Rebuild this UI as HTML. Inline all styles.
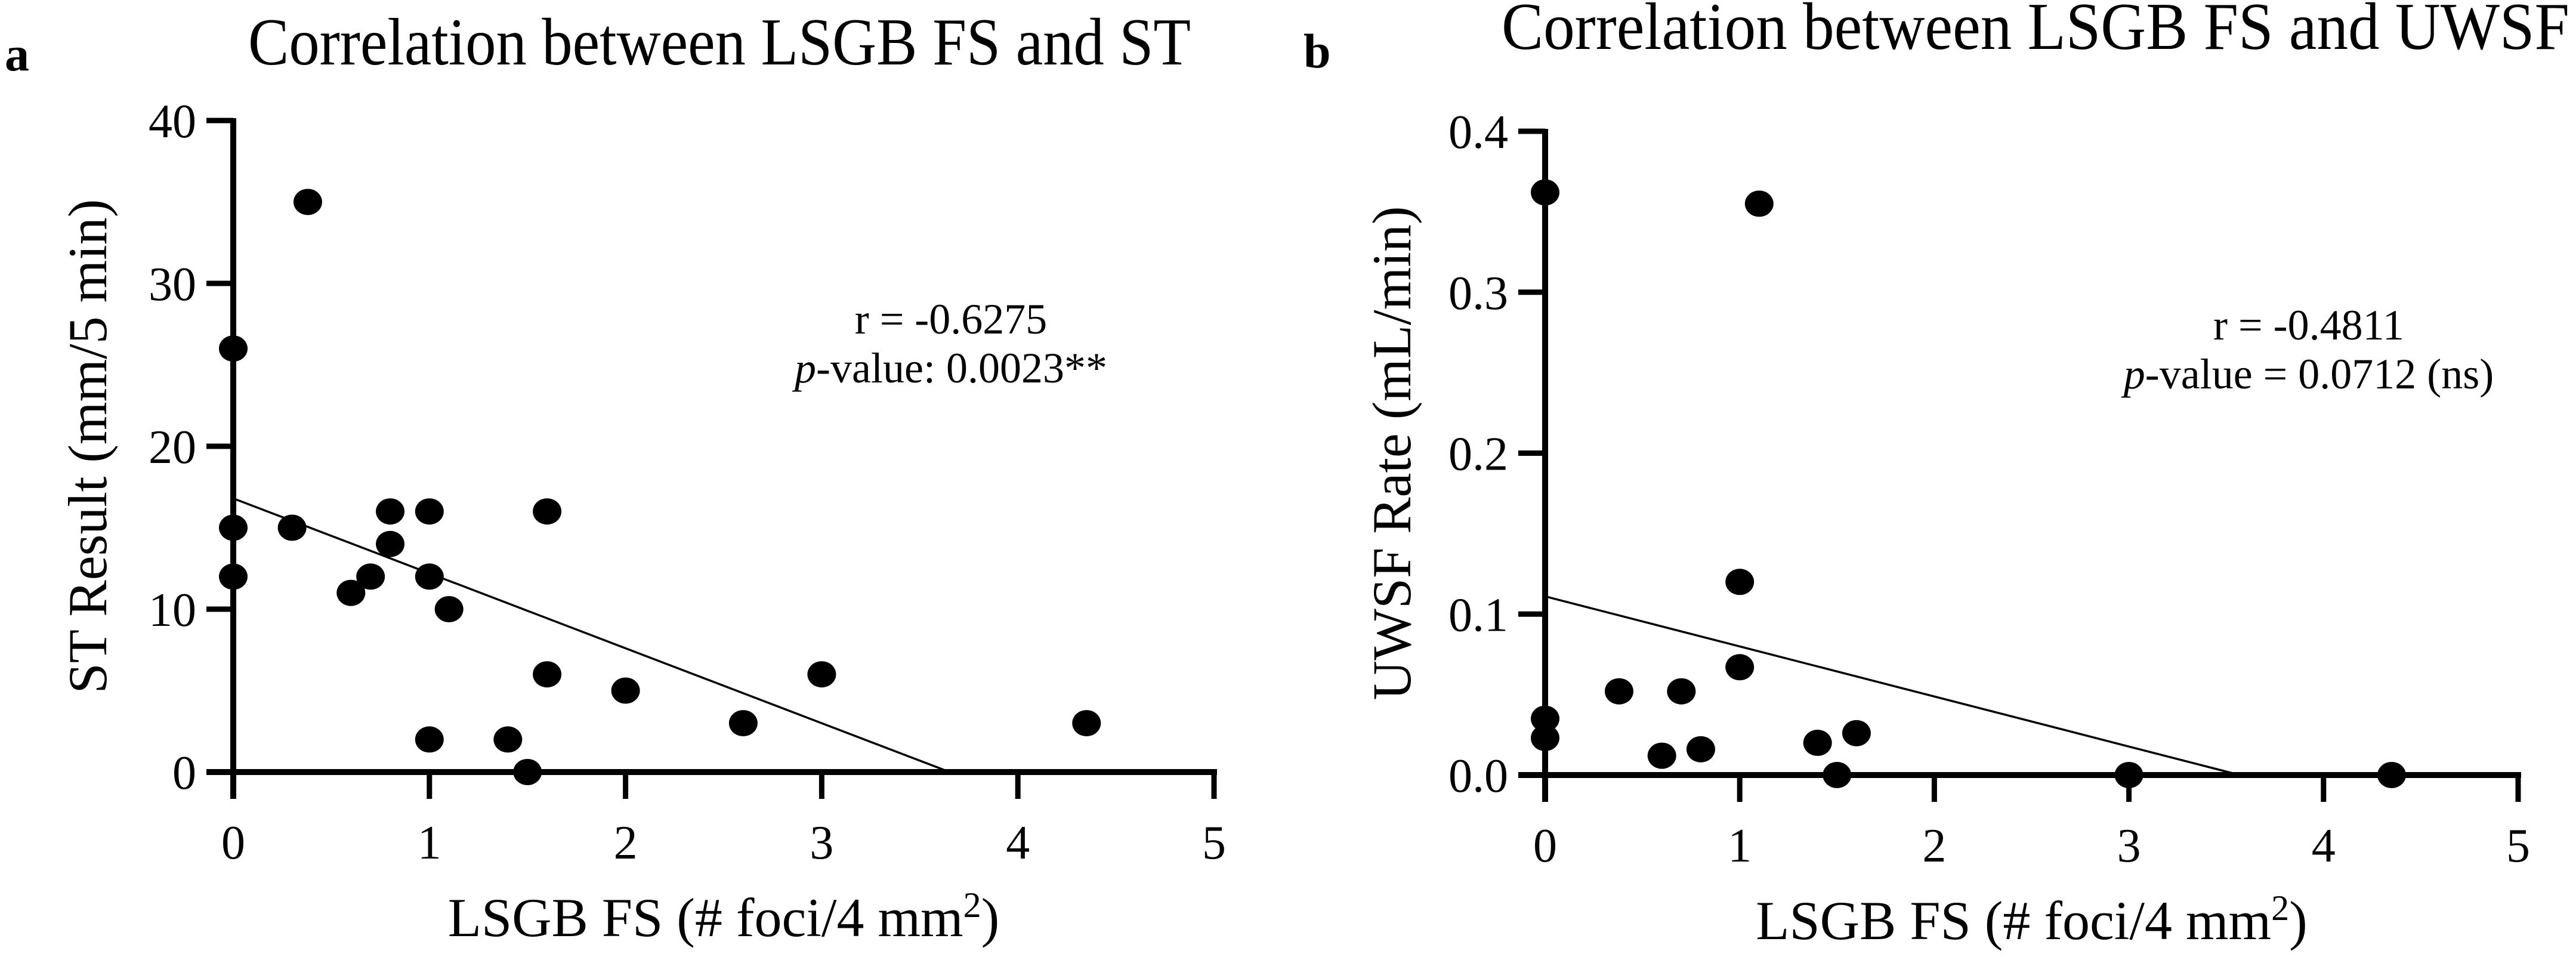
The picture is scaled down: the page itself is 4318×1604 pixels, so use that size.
<!DOCTYPE html>
<html><head><meta charset="utf-8"><style>
html,body{margin:0;padding:0;background:#fff}
svg{display:block}
text{font-family:"Liberation Serif",serif;fill:#000}
</style></head><body>
<svg id="chart" width="4318" height="1604" viewBox="0 0 4318 1604" xmlns="http://www.w3.org/2000/svg"></svg>
<script>
const NS="http://www.w3.org/2000/svg";
const svg=document.getElementById('chart');
// Panel a data
const aX=[0,0,0,0.3,0.38,0.6,0.7,0.8,0.8,1,1,1,1.1,1.4,1.5,1.6,1.6,2,2.6,3,4.35];
const aY=[26,15,12,15,35,11,12,16,14,16,12,2,10,2,0,16,6,5,3,6,3];
const aFit=[16.8,-4.6];
const aYTicks=[0,10,20,30,40];
const aYLabels=["0","10","20","30","40"];
// Panel b data
const bX=[0,0,0,0.38,0.6,0.7,0.8,1,1,1.1,1.4,1.5,1.6,3,4.35];
const bY=[0.362,0.035,0.023,0.052,0.012,0.052,0.016,0.12,0.067,0.355,0.02,0,0.026,0,0];
const bFit=[0.111,-0.0311];
const bYTicks=[0,0.1,0.2,0.3,0.4];
const bYLabels=["0.0","0.1","0.2","0.3","0.4"];
const xTicks=[0,1,2,3,4,5];

function el(tag,attrs,parent){const e=document.createElementNS(NS,tag);for(const k in attrs)e.setAttribute(k,attrs[k]);(parent||svg).appendChild(e);return e;}

function panel(cfg){
  const g=el('g',{});
  
  
  const sx=v=>cfg.x0+(v-0)/5*(cfg.x5-cfg.x0);
  const sy=v=>cfg.y0-(v-0)/cfg.ymax*(cfg.y0-cfg.ytop);
  const L=el('text',{x:cfg.lx,y:cfg.ly,'font-size':82,'font-weight':'bold'},g);L.textContent=cfg.letter;
  
  const T=el('text',{x:cfg.tx,y:cfg.ty,'font-size':112,'text-anchor':'middle',textLength:cfg.tlen,lengthAdjust:'spacingAndGlyphs'},g);T.textContent=cfg.title;
  
  const ya=el('line',{x1:cfg.x0,y1:sy(cfg.ymax)-4,x2:cfg.x0,y2:cfg.y0+45,stroke:'#000','stroke-width':10},g);
  
  const xa=el('line',{x1:cfg.x0-45,y1:cfg.y0,x2:sx(5)+5,y2:cfg.y0,stroke:'#000','stroke-width':10},g);
  
  cfg.yt.forEach((v,i)=>{
    const t=el('line',{x1:cfg.x0-45,y1:sy(v),x2:cfg.x0,y2:sy(v),stroke:'#000','stroke-width':9},g);
    
    const tl=el('text',{x:cfg.x0-62,y:sy(v)+28,'font-size':80,'text-anchor':'end'},g);tl.textContent=cfg.yl[i];
    
  });
  xTicks.forEach(v=>{
    const t=el('line',{x1:sx(v),y1:cfg.y0,x2:sx(v),y2:cfg.y0+45,stroke:'#000','stroke-width':9},g);
    
    const tl=el('text',{x:sx(v),y:cfg.y0+145,'font-size':80,'text-anchor':'middle'},g);tl.textContent=String(v);
    
  });
  const xt=el('text',{x:(cfg.x0+cfg.x5)/2,y:cfg.y0+275,'font-size':92,'text-anchor':'middle'},g);
  xt.innerHTML='LSGB FS (# foci/4 mm<tspan dy="-32" font-size="60">2</tspan><tspan dy="32">)</tspan>';
  
  const ytt=el('text',{x:0,y:0,'font-size':92,'text-anchor':'middle',transform:`translate(${cfg.ytx},${(cfg.y0+sy(cfg.ymax))/2}) rotate(-90)`},g);
  ytt.textContent=cfg.ytitle;
  
  const xEnd=-cfg.fit[0]/cfg.fit[1];
  const rl=el('line',{x1:sx(0),y1:sy(cfg.fit[0]),x2:sx(xEnd),y2:sy(0),stroke:'#000','stroke-width':3.5},g);
  
  cfg.xs.forEach((x,i)=>{
    const c=el('ellipse',{cx:sx(x),cy:sy(cfg.ys[i]),rx:24,ry:22,fill:'#000'},g);
    
  });
  const a1=el('text',{x:cfg.ax,y:cfg.ay,'font-size':72,'text-anchor':'middle'},g);a1.textContent=cfg.r;
  
  const a2=el('text',{x:cfg.ax,y:cfg.ay+82,'font-size':72,'text-anchor':'middle'},g);
  a2.innerHTML='<tspan font-style="italic">p</tspan>'+cfg.p;
  
}
panel({name:'panel-a',letter:'a',lx:8,ly:118,title:'Correlation between LSGB FS and ST',tx:1206,ty:108,tlen:1580,
  x0:391,x5:2035,y0:1294,ytop:202,ymax:40,yt:aYTicks,yl:aYLabels,xs:aX,ys:aY,fit:aFit,
  ytitle:'ST Result (mm/5 min)',ytx:178,ax:1594,ay:559,r:'r = -0.6275',p:'-value: 0.0023**'});
panel({name:'panel-b',letter:'b',lx:2185,ly:113,title:'Correlation between LSGB FS and  UWSF',tx:3412,ty:82,tlen:1790,
  x0:2590,x5:4221,y0:1299,ytop:220,ymax:0.4,yt:bYTicks,yl:bYLabels,xs:bX,ys:bY,fit:bFit,
  ytitle:'UWSF Rate (mL/min)',ytx:2364,ax:3870,ay:569,r:'r = -0.4811',p:'-value = 0.0712 (ns)'});
</script>
</body></html>
